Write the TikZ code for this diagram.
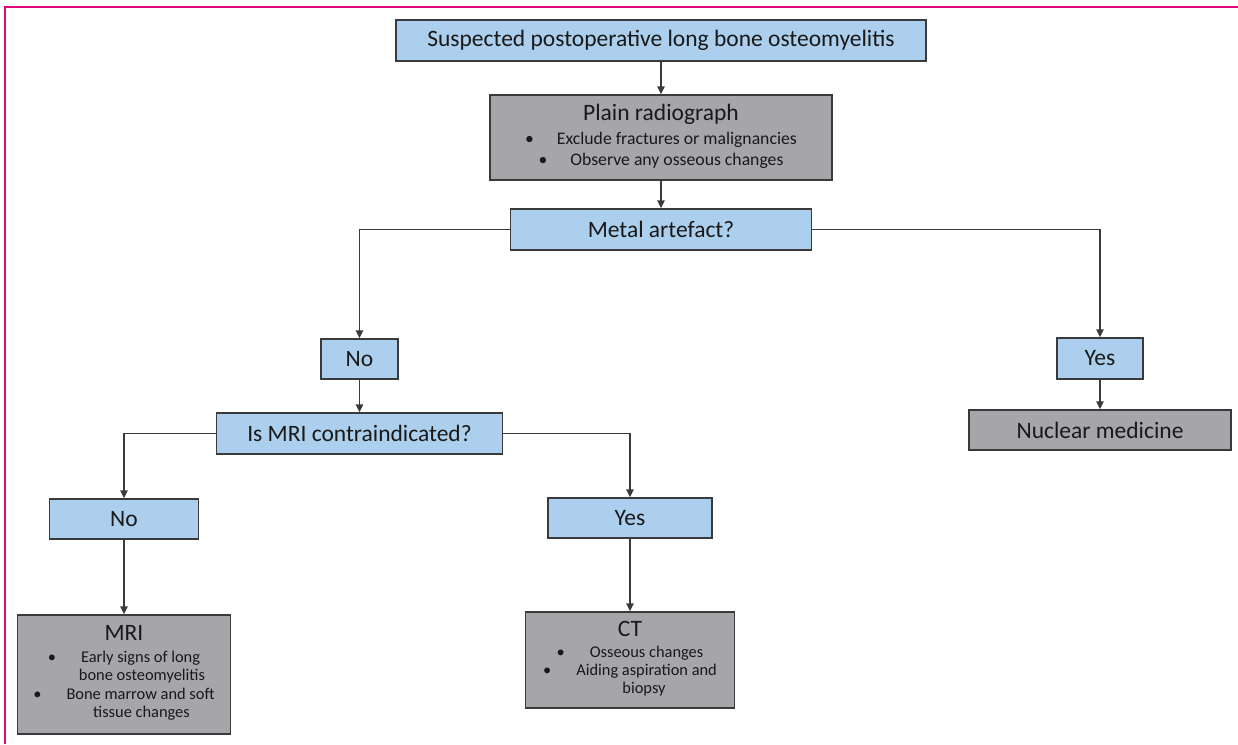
\documentclass[tikz,border=0pt]{standalone}
\usepackage{fontspec}
\setmainfont{Carlito}
\usepackage{tikz}
\usepackage{xcolor}
\usetikzlibrary{calc}
\usetikzlibrary{positioning}
\usetikzlibrary{arrows.meta}

\definecolor{qblue}{RGB}{171,207,236}
\definecolor{qgray}{RGB}{166,165,170}
\definecolor{qedge}{RGB}{58,58,58}
\definecolor{qframe}{RGB}{222,8,122}

\tikzset{
  qbox/.style={draw=qedge, line width=1.5pt, fill=qblue, inner sep=0pt, text=black!90,
    font=\fontsize{23.5}{28}\selectfont},
  rbox/.style={qbox, fill=qgray},
  flow/.style={draw=qedge, line width=1.5pt, -{Triangle[length=8pt,width=7.5pt]}},
}

\begin{document}
\begin{tikzpicture}[x=1pt,y=-1pt]
\useasboundingbox (0,0) rectangle (1238,744);
\draw[qframe, line width=2.8pt] (5,744) -- (5,7) -- (1238,7);

\node[qbox, minimum width=530, minimum height=41] (start) at (661,40.5)
  {Suspected postoperative long bone osteomyelitis};
\node[rbox, minimum width=342, minimum height=85] (plain) at (661,137.5)
  {\fontsize{17.7}{21}\selectfont\begin{tabular}{@{}c@{}}{\fontsize{23.5}{28}\selectfont Plain radiograph}\\[3pt]
   \textbullet\hspace{23pt}Exclude fractures or malignancies\\
   \textbullet\hspace{23pt}Observe any osseous changes\end{tabular}};
\node[qbox, minimum width=301, minimum height=41] (metal) at (661,229.5) {Metal artefact?};

\node[qbox, minimum width=77, minimum height=40] (no1) at (359.5,359) {No};
\node[qbox, minimum width=86, minimum height=41] (yes1) at (1100,358.5) {Yes};
\node[rbox, minimum width=262, minimum height=40] (nuclear) at (1100,430) {Nuclear medicine};

\node[qbox, minimum width=286, minimum height=41] (mriq) at (359.5,433.5) {Is MRI contraindicated?};
\node[qbox, minimum width=149, minimum height=40] (no2) at (124,519) {No};
\node[qbox, minimum width=164, minimum height=40] (yes2) at (630,518) {Yes};

\node[rbox, minimum width=213, minimum height=119] (mri) at (124,674.5)
  {\fontsize{16.4}{18.5}\selectfont\begin{tabular}{@{}c@{}}{\fontsize{23.5}{28}\selectfont MRI}\\[3pt]
   \textbullet\hspace{25pt}Early signs of long\\
   \hspace*{36pt}bone osteomyelitis\\
   \textbullet\hspace{25pt}Bone marrow and soft\\
   \hspace*{35pt}tissue changes\end{tabular}};
\node[rbox, minimum width=209, minimum height=96] (ct) at (630,660)
  {\fontsize{16.4}{18}\selectfont\begin{tabular}{@{}c@{}}{\fontsize{23.5}{28}\selectfont CT}\\[3pt]
   \textbullet\hspace{25pt}Osseous changes\\
   \textbullet\hspace{25pt}Aiding aspiration and\\
   \hspace*{28pt}biopsy\end{tabular}};

\draw[flow] (start.south) -- (plain.north);
\draw[flow] (plain.south) -- (metal.north);
\draw[flow] (metal.west) -| (no1.north);
\draw[flow] (metal.east) -| (yes1.north);
\draw[flow] (yes1.south) -- (nuclear.north);
\draw[flow] (no1.south) -- (mriq.north);
\draw[flow] (mriq.west) -| (no2.north);
\draw[flow] (mriq.east) -| (yes2.north);
\draw[flow] (no2.south) -- (mri.north);
\draw[flow] (yes2.south) -- (ct.north);

\end{tikzpicture}
\end{document}
